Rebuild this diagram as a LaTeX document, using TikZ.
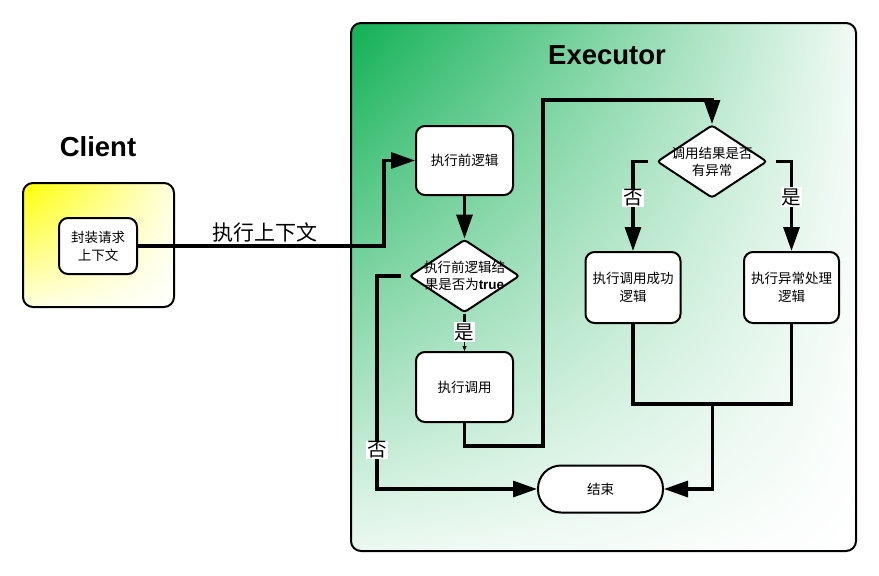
\documentclass[tikz,border=0pt]{standalone}
\usepackage{fontspec}
\setmainfont{Noto Sans CJK SC}
\newfontfamily\latin{Liberation Sans}
\usetikzlibrary{shapes.geometric,arrows.meta,calc,shadings}
\definecolor{exgreen}{RGB}{16,176,84}
\begin{document}
\begin{tikzpicture}[x=1pt,y=-1pt,
  frame/.style={draw=black, line width=2pt, rounded corners=10pt, inner sep=0pt},
  box/.style={draw=black, line width=2pt, rounded corners=9pt, fill=white, align=center,
    font=\fontsize{13.5}{18}\selectfont, inner sep=0pt},
  dia/.style={draw=black, line width=2pt, diamond, rounded corners=3pt, fill=white, inner sep=0pt,
    minimum width=110pt, minimum height=73pt},
  diatext/.style={align=center, font=\fontsize{13.5}{17}\selectfont},
  conn/.style={line width=3.2pt, -{Triangle[length=24pt,width=16pt]}},
  plain/.style={line width=3.2pt},
  lbl/.style={fill=white, inner sep=1pt, font=\fontsize{19.5}{19.5}\selectfont},
  title/.style={font=\latin\bfseries\fontsize{27.5}{27.5}\selectfont},
]
\useasboundingbox (0,0) rectangle (879,576);

% frames
\node[frame, minimum width=151pt, minimum height=124pt,
  upper left=yellow, upper right=yellow!12!white, lower left=yellow!12!white, lower right=white]
  (client) at (98.5,245) {};
\node[frame, minimum width=505pt, minimum height=528pt,
  upper left=exgreen, upper right=exgreen!6!white, lower left=exgreen!8!white, lower right=white]
  (executor) at (603.5,287) {};
\node[title] (ctitle) at (98,147) {Client};
\node[title] (etitle) at (607,55) {Executor};

% nodes
\node[box, minimum width=78pt, minimum height=56pt] (wrap) at (98,246) {封装请求\\上下文};
\node[box, minimum width=97pt, minimum height=69pt] (pre) at (464.5,160.5) {执行前逻辑};
\node[dia, label={[diatext]center:{执行前逻辑结\\果是否为{\latin\bfseries true}}}] (d1) at (464.5,276) {};
\node[box, minimum width=97pt, minimum height=70pt] (exec) at (464.5,387) {执行调用};
\node[dia, label={[diatext]center:{调用结果是否\\有异常}}] (d2) at (712,161.5) {};
\node[box, minimum width=95pt, minimum height=71pt] (ok) at (633,287.5) {执行调用成功\\逻辑};
\node[box, minimum width=95pt, minimum height=71pt] (err) at (791.5,287.5) {执行异常处理\\逻辑};
\node[box, minimum width=125pt, minimum height=47pt, rounded corners=23pt] (end) at (600.5,489) {结束};

% helper coordinates
\coordinate (c1) at (384,160.5);
\coordinate (cL) at (377,489);
\coordinate (cA) at (543,446);
\coordinate (cB) at (543,100);
\coordinate (cOK) at (633,161.5);
\coordinate (cERR) at (791.5,161.5);
\coordinate (cM) at (712.5,404);
\coordinate (cM2) at (791.5,404);

% connectors
\draw[conn] (wrap.east) -| (c1) -- (pre.west);
\node[fill=white, inner sep=1pt, font=\fontsize{21}{21}\selectfont] (ctx) at (265,232) {执行上下文};

\draw[conn] (pre.south) -- (d1.north);

\node[lbl] (shi1) at (464.5,332) {是};
\draw[plain] (d1.south) -- (shi1.north);
\draw[line width=0.8pt, -{Triangle[length=5pt,width=4pt]}] (shi1.south) -- (exec.north);

\draw[conn, shorten <=8pt] (d1.west) -| (cL) -- (end.west);
\node[lbl] (fou1) at (377,450) {否};

\draw[conn] (exec.south) |- (cA) -- (cB) -| (d2.north);

\draw[conn, shorten <=8pt] (d2.west) -- (cOK) -- (ok.north);
\node[lbl] (fou2) at (633,198) {否};
\draw[conn, shorten <=8pt] (d2.east) -- (cERR) -- (err.north);
\node[lbl] (shi2) at (791.5,197) {是};

\draw[plain] (ok.south) |- (cM2) -- (err.south);
\draw[conn] (cM) |- (end.east);
\end{tikzpicture}
\end{document}
